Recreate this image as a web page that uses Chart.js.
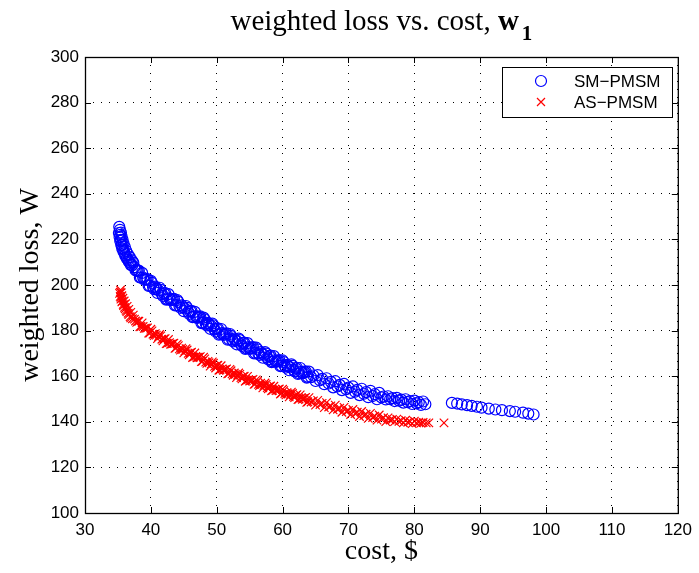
<!DOCTYPE html>
<html>
<head>
<meta charset="utf-8">
<script src="https://cdn.jsdelivr.net/npm/chart.js@4/dist/chart.umd.min.js"></script>
<style>
  html, body { margin: 0; padding: 0; background: #ffffff; }
  #lossChart { display: block; }
</style>
</head>
<body>
<canvas id="lossChart" width="699" height="573"></canvas>
<script>
// =========================
// DATA
// =========================

var costTicks = [30, 40, 50, 60, 70, 80, 90, 100, 110, 120];
var lossTicks = [100, 120, 140, 160, 180, 200, 220, 240, 260, 280, 300];

var seriesNames = ["SM\u2212PMSM", "AS\u2212PMSM"];

// SM-PMSM, cost in $
var smCost = [
  35.20, 35.30, 35.15, 35.45, 35.25, 35.55, 35.35, 35.70, 35.50, 35.85,
  35.65, 36.05, 35.85, 36.25, 36.10, 36.50, 36.35, 36.80, 36.65, 37.10, 36.95,
  37.33, 37.67,
  38, 38.33, 38.67, 39, 39.33, 39.67, 40, 40.33, 40.67, 41, 41.33, 41.67,
  42, 42.33, 42.67, 43, 43.33, 43.67, 44, 44.33, 44.67, 45, 45.33, 45.67,
  46, 46.33, 46.67, 47, 47.33, 47.67, 48, 48.33, 48.67, 49, 49.33, 49.67,
  50, 50.33, 50.67, 51, 51.33, 51.67, 52, 52.33, 52.67, 53, 53.33, 53.67,
  54, 54.33, 54.67, 55, 55.33, 55.67, 56, 56.33, 56.67, 57, 57.33, 57.67,
  58, 58.33, 58.67, 59, 59.33, 59.67, 60, 60.33, 60.67, 61, 61.33, 61.67,
  62, 62.33, 62.67, 63, 63.33, 63.67, 64, 64.33, 64.67, 65, 65.33, 65.67,
  66, 66.33, 66.67, 67, 67.33, 67.67, 68, 68.33, 68.67, 69, 69.33, 69.67,
  70, 70.33, 70.67, 71, 71.33, 71.67, 72, 72.33, 72.67, 73, 73.33, 73.67,
  74, 74.33, 74.67, 75, 75.33, 75.67, 76, 76.33, 76.67, 77, 77.33, 77.67,
  78, 78.33, 78.67, 79, 79.33, 79.67, 80, 80.33, 80.67, 81, 81.33, 81.67,
  85.7, 86.5, 87.2, 88.0, 88.7, 89.5, 90.2, 91.3, 92.3, 93.3,
  94.5, 95.3, 96.5, 97.3, 98.1,
  // denser part of the front
  35.35, 35.45, 35.60, 35.80, 36.00, 36.25, 36.55, 36.85, 37.15, 37.50, 37.85,
  38.17, 38.5, 38.83, 39.17, 39.5, 39.83, 40.17, 40.5, 40.83, 41.17, 41.5, 41.83,
  42.17, 42.5, 42.83, 43.17, 43.5, 43.83, 44.17, 44.5, 44.83, 45.17, 45.5, 45.83,
  46.17, 46.5, 46.83, 47.17, 47.5, 47.83, 48.17, 48.5, 48.83, 49.17, 49.5, 49.83,
  50.17, 50.5, 50.83, 51.17, 51.5, 51.83, 52.17, 52.5, 52.83, 53.17, 53.5, 53.83,
  54.17, 54.5, 54.83, 55.17, 55.5, 55.83, 56.17, 56.5, 56.83, 57.17, 57.5, 57.83,
  58.17, 58.5, 58.83, 59.17, 59.5, 59.83, 60.17, 60.5, 60.83, 61.17, 61.5, 61.83,
  62.17, 62.5, 62.83, 63.17, 63.5, 63.83
];
// SM-PMSM, weighted loss in W
var smLoss = [
  225.5, 224.2, 222.8, 223.0, 221.0, 221.4, 219.3, 219.8, 217.6, 218.2,
  216.0, 216.6, 214.6, 215.0, 213.0, 213.6, 211.7, 212.2, 210.2, 210.8, 208.8,
  209.8, 206.5,
  206.3, 203.3, 205.3, 202.3, 202.5, 199.6, 201.8, 199.0, 199.3, 196.5, 198.8, 196.0,
  196.3, 193.6, 196.0, 193.3, 193.7, 191.0, 193.4, 190.8, 191.1, 188.5, 190.8, 188.2,
  188.5, 185.9, 188.2, 185.6, 186.0, 183.3, 185.7, 183.1, 183.4, 180.8, 183.1, 180.5,
  180.8, 178.2, 180.7, 178.1, 178.6, 176.0, 178.5, 176.0, 176.5, 174.0, 176.5, 174.0,
  174.5, 172.0, 174.5, 172.0, 172.5, 170.0, 172.5, 170.0, 170.6, 168.1, 170.6, 168.2,
  168.7, 166.2, 168.8, 166.3, 166.8, 164.4, 166.9, 164.5, 165.0, 162.6, 165.2, 162.8,
  163.4, 161.0, 163.6, 161.2, 161.8, 159.4, 162.0, 159.6, 160.3, 157.9, 160.5, 158.2,
  158.8, 156.5, 159.1, 156.8, 157.5, 155.1, 157.8, 155.5, 156.2, 153.9, 156.6, 154.3,
  155.0, 152.7, 155.5, 153.2, 154.0, 151.7, 154.5, 152.3, 153.0, 150.8, 153.6, 151.3,
  152.1, 149.9, 152.7, 150.7, 151.1, 149.8, 151.2, 149.9, 150.4, 149.1, 150.5, 149.3,
  149.7, 148.4, 149.9, 148.6, 149.1, 147.8, 149.3, 148.1, 148.6, 147.4, 148.9, 147.7,
  148.3, 148.0, 147.6, 147.3, 147.0, 146.6, 146.2, 145.8, 145.4, 145.1,
  144.7, 144.4, 144.0, 143.6, 143.2,
  // denser part of the front
  222.0, 219.8, 217.6, 215.6, 214.0, 212.4, 211.0, 209.8, 208.6, 207.8, 206.2,
  206.3, 203.3, 203.3, 202.4, 202.6, 199.7, 200.9, 198.2, 198.4, 197.6, 197.9, 195.2,
  196.5, 193.8, 194.1, 193.5, 193.9, 191.2, 192.6, 190.0, 190.3, 189.7, 190.0, 187.3,
  188.7, 186.1, 186.4, 185.8, 186.2, 183.5, 184.9, 182.3, 182.6, 182.0, 182.3, 179.6,
  181.0, 178.5, 178.9, 178.3, 178.8, 176.3, 177.7, 175.3, 175.8, 175.2, 175.8, 173.3,
  174.7, 172.3, 172.8, 172.2, 172.8, 170.3, 171.8, 169.3, 169.8, 169.4, 169.9, 167.4,
  169.0, 166.5, 167.0, 166.6, 167.1, 164.6, 166.2, 163.8, 164.3, 163.9, 164.5, 162.1,
  163.7, 161.3, 161.9, 161.5, 162.1, 159.7
];

// AS-PMSM, cost in $
var asCost = [
  35.40, 35.25, 35.50, 35.35, 35.60, 35.45, 35.75, 35.60, 35.95, 35.80,
  36.15, 36.00, 36.40, 36.25, 36.65, 36.55, 36.95, 36.85,
  37.33, 37.67,
  38, 38.33, 38.67, 39, 39.33, 39.67, 40, 40.33, 40.67, 41, 41.33, 41.67,
  42, 42.33, 42.67, 43, 43.33, 43.67, 44, 44.33, 44.67, 45, 45.33, 45.67,
  46, 46.33, 46.67, 47, 47.33, 47.67, 48, 48.33, 48.67, 49, 49.33, 49.67,
  50, 50.33, 50.67, 51, 51.33, 51.67, 52, 52.33, 52.67, 53, 53.33, 53.67,
  54, 54.33, 54.67, 55, 55.33, 55.67, 56, 56.33, 56.67, 57, 57.33, 57.67,
  58, 58.33, 58.67, 59, 59.33, 59.67, 60, 60.33, 60.67, 61, 61.33, 61.67,
  62, 62.33, 62.67, 63, 63.33, 63.67, 64, 64.33, 64.67, 65, 65.33, 65.67,
  66, 66.33, 66.67, 67, 67.33, 67.67, 68, 68.33, 68.67, 69, 69.33, 69.67,
  70, 70.33, 70.67, 71, 71.33, 71.67, 72, 72.33, 72.67, 73, 73.33, 73.67,
  74, 74.33, 74.67, 75, 75.33, 75.67, 76, 76.33, 76.67, 77, 77.33, 77.67,
  78, 78.33, 78.67, 79, 79.33, 79.67, 80, 80.33, 80.67,
  81.0, 81.33, 81.8, 82.2, 84.5,
  // denser part of the front
  35.35, 35.45, 35.65, 35.85, 36.10, 36.35, 36.65, 36.95, 37.20, 37.50, 37.85,
  38.17, 38.5, 38.83, 39.17, 39.5, 39.83, 40.17, 40.5, 40.83, 41.17, 41.5, 41.83,
  42.17, 42.5, 42.83, 43.17, 43.5, 43.83, 44.17, 44.5, 44.83, 45.17, 45.5, 45.83,
  46.17, 46.5, 46.83, 47.17, 47.5, 47.83, 48.17, 48.5, 48.83, 49.17, 49.5, 49.83,
  50.17, 50.5, 50.83, 51.17, 51.5, 51.83, 52.17, 52.5, 52.83, 53.17, 53.5, 53.83,
  54.17, 54.5, 54.83, 55.17, 55.5, 55.83, 56.17, 56.5, 56.83, 57.17, 57.5, 57.83,
  58.17, 58.5, 58.83, 59.17, 59.5, 59.83, 60.17, 60.5, 60.83, 61.17, 61.5, 61.83,
  62.17, 62.5, 62.83, 63.17, 63.5, 63.83
];
// AS-PMSM, weighted loss in W
var asLoss = [
  197.8, 196.3, 196.6, 195.0, 195.3, 193.8, 194.2, 192.6, 193.0, 191.5,
  191.8, 190.2, 190.6, 188.9, 189.3, 187.6, 188.0, 186.1,
  186.8, 184.2,
  184.1, 181.7, 183.4, 181.0, 181.1, 178.9, 180.6, 178.4, 178.7, 176.5, 178.3, 176.2,
  176.4, 174.3, 176.1, 174.0, 174.3, 172.2, 174.1, 172.0, 172.3, 170.2, 172.1, 170.0,
  170.3, 168.2, 170.2, 168.1, 168.4, 166.4, 168.3, 166.2, 166.5, 164.4, 166.3, 164.3,
  164.6, 162.6, 164.6, 162.6, 163.0, 161.0, 163.0, 161.0, 161.4, 159.4, 161.4, 159.4,
  159.8, 157.8, 159.9, 157.9, 158.3, 156.4, 158.4, 156.4, 156.9, 154.9, 157.0, 155.0,
  155.5, 153.6, 155.6, 153.7, 154.2, 152.2, 154.3, 152.4, 152.8, 150.9, 153.0, 151.1,
  151.6, 149.7, 151.8, 149.9, 150.4, 148.5, 150.6, 148.7, 149.2, 147.3, 149.4, 147.6,
  148.1, 146.2, 148.4, 146.5, 147.0, 145.2, 147.3, 145.5, 146.0, 144.2, 146.3, 144.5,
  145.0, 143.2, 145.4, 143.6, 144.2, 142.3, 144.5, 142.7, 143.3, 141.5, 143.7, 141.9,
  142.5, 140.7, 143.0, 141.2, 141.8, 140.1, 141.7, 140.8, 141.0, 140.1, 141.2, 140.2,
  140.5, 139.6, 140.7, 139.8, 140.1, 139.2, 140.3, 139.5, 139.8,
  139.4, 139.7, 139.5, 139.5, 139.5,
  // denser part of the front
  196.9, 194.6, 192.9, 191.0, 189.6, 188.3, 187.0, 185.6, 185.2, 185.0, 183.6,
  184.1, 181.8, 181.8, 181.1, 181.2, 178.9, 179.9, 177.8, 178.0, 177.4, 177.7, 175.5,
  176.5, 174.4, 174.7, 174.1, 174.5, 172.4, 173.4, 171.4, 171.7, 171.1, 171.5, 169.4,
  170.5, 168.4, 168.7, 168.3, 168.6, 166.5, 167.6, 165.6, 165.9, 165.4, 165.7, 163.6,
  164.8, 162.8, 163.2, 162.8, 163.2, 161.2, 162.4, 160.4, 160.8, 160.4, 160.8, 158.8,
  160.0, 158.1, 158.5, 158.1, 158.6, 156.6, 157.8, 155.9, 156.3, 155.9, 156.4, 154.5,
  155.7, 153.8, 154.3, 153.9, 154.4, 152.5, 153.7, 151.8, 152.3, 152.0, 152.5, 150.6,
  151.9, 150.0, 150.5, 150.2, 150.7, 148.8
];

// =========================
// HELPERS
// =========================

var serifFont = '"Liberation Serif", "Times New Roman", Times, serif';
var sansFont = '"Liberation Sans", Arial, Helvetica, sans-serif';

function toPoints(xs, ys) {
  var pts = [];
  for (var i = 0; i < xs.length; i++) {
    pts.push({ x: xs[i], y: ys[i] });
  }
  return pts;
}

// title with a bold "w" and a subscript "1"
var titlePlugin = {
  id: "matlabTitle",
  afterDraw: function (chart) {
    var ctx = chart.ctx;
    var area = chart.chartArea;
    var main = "weighted loss vs. cost, ";
    ctx.save();
    ctx.fillStyle = "#000";
    ctx.textBaseline = "alphabetic";
    ctx.font = "29px " + serifFont;
    var w1 = ctx.measureText(main).width;
    ctx.font = "bold 29px " + serifFont;
    var w2 = ctx.measureText("w").width;
    ctx.font = "bold 21px " + serifFont;
    var w3 = ctx.measureText("1").width;
    var x = (area.left + area.right) / 2 - (w1 + w2 + w3 + 3) / 2;
    var y = 30;
    ctx.font = "29px " + serifFont;
    ctx.fillText(main, x, y);
    ctx.font = "bold 29px " + serifFont;
    ctx.fillText("w", x + w1, y);
    ctx.font = "bold 21px " + serifFont;
    ctx.fillText("1", x + w1 + w2 + 3, y + 10);
    ctx.restore();
  },
};

// axes box, inward ticks on all four sides, and the boxed legend
var framePlugin = {
  id: "matlabFrame",
  afterDraw: function (chart) {
    var ctx = chart.ctx;
    var area = chart.chartArea;
    var xs = chart.scales.x;
    var ys = chart.scales.y;
    var tick = 6;
    var i, p;

    ctx.save();
    ctx.strokeStyle = "#000";
    ctx.lineWidth = 1;
    ctx.beginPath();
    for (i = 0; i < costTicks.length; i++) {
      p = Math.round(xs.getPixelForValue(costTicks[i])) + 0.5;
      ctx.moveTo(p, area.bottom);
      ctx.lineTo(p, area.bottom - tick);
      ctx.moveTo(p, area.top);
      ctx.lineTo(p, area.top + tick);
    }
    for (i = 0; i < lossTicks.length; i++) {
      p = Math.round(ys.getPixelForValue(lossTicks[i])) + 0.5;
      ctx.moveTo(area.left, p);
      ctx.lineTo(area.left + tick, p);
      ctx.moveTo(area.right, p);
      ctx.lineTo(area.right - tick, p);
    }
    ctx.stroke();

    ctx.lineWidth = 1.3;
    ctx.strokeRect(area.left + 0.5, area.top + 0.5, area.right - area.left, area.bottom - area.top);

    // legend
    var lx = 502, ly = 67, lw = 170, lh = 50;
    ctx.fillStyle = "#fff";
    ctx.fillRect(lx, ly, lw, lh);
    ctx.lineWidth = 1;
    ctx.strokeRect(lx + 0.5, ly + 0.5, lw, lh);

    ctx.lineWidth = 1.2;
    ctx.strokeStyle = "#0000ff";
    ctx.beginPath();
    ctx.arc(541, 81, 5.5, 0, Math.PI * 2);
    ctx.stroke();

    ctx.strokeStyle = "#ff0000";
    ctx.beginPath();
    ctx.moveTo(537, 98);
    ctx.lineTo(545, 106);
    ctx.moveTo(545, 98);
    ctx.lineTo(537, 106);
    ctx.stroke();

    ctx.fillStyle = "#000";
    ctx.font = "17px " + sansFont;
    ctx.textBaseline = "alphabetic";
    ctx.fillText(seriesNames[0], 574, 87);
    ctx.fillText(seriesNames[1], 574, 108);
    ctx.restore();
  },
};

// =========================
// WEIGHTED LOSS SCATTER
// =========================

var lossCanvas = document.getElementById("lossChart");

if (lossCanvas) {
  var lossData = {
    datasets: [
      {
        label: seriesNames[0],
        data: toPoints(smCost, smLoss),
        pointStyle: "circle",
        pointRadius: 5.5,
        pointBorderWidth: 1.2,
        pointBorderColor: "#0000ff",
        pointBackgroundColor: "rgba(0,0,0,0)",
        showLine: false,
      },
      {
        label: seriesNames[1],
        data: toPoints(asCost, asLoss),
        pointStyle: "crossRot",
        pointRadius: 6,
        pointBorderWidth: 1.2,
        pointBorderColor: "#ff0000",
        pointBackgroundColor: "#ff0000",
        showLine: false,
      },
    ],
  };

  var lossOptions = {
    responsive: false,
    animation: false,
    events: [],
    layout: {
      padding: { left: 0, top: 57, right: 18, bottom: 0 },
    },
    plugins: {
      legend: { display: false },
      title: { display: false },
      tooltip: { enabled: false },
    },
    scales: {
      x: {
        type: "linear",
        min: 30,
        max: 120,
        afterFit: function (scale) {
          scale.height = 60;
        },
        afterBuildTicks: function (scale) {
          scale.ticks = costTicks.map(function (v) {
            return { value: v };
          });
        },
        grid: {
          color: "#000",
          lineWidth: 1,
          drawTicks: false,
        },
        border: { display: false, dash: [1, 7] },
        ticks: {
          color: "#000",
          padding: 7,
          maxRotation: 0,
          font: { family: sansFont, size: 17 },
        },
        title: {
          display: true,
          text: "cost, $",
          color: "#000",
          padding: { top: 0, bottom: 5 },
          font: { family: serifFont, size: 28 },
        },
      },
      y: {
        type: "linear",
        min: 100,
        max: 300,
        afterFit: function (scale) {
          scale.width = 85;
        },
        afterBuildTicks: function (scale) {
          scale.ticks = lossTicks.map(function (v) {
            return { value: v };
          });
        },
        grid: {
          color: "#000",
          lineWidth: 1,
          drawTicks: false,
        },
        border: { display: false, dash: [1, 7] },
        ticks: {
          color: "#000",
          padding: 6,
          font: { family: sansFont, size: 17 },
        },
        title: {
          display: true,
          text: "weighted loss, W",
          color: "#000",
          padding: { top: 14, bottom: 0 },
          font: { family: serifFont, size: 28 },
        },
      },
    },
  };

  new Chart(lossCanvas, {
    type: "scatter",
    data: lossData,
    options: lossOptions,
    plugins: [titlePlugin, framePlugin],
  });
}
</script>
</body>
</html>
